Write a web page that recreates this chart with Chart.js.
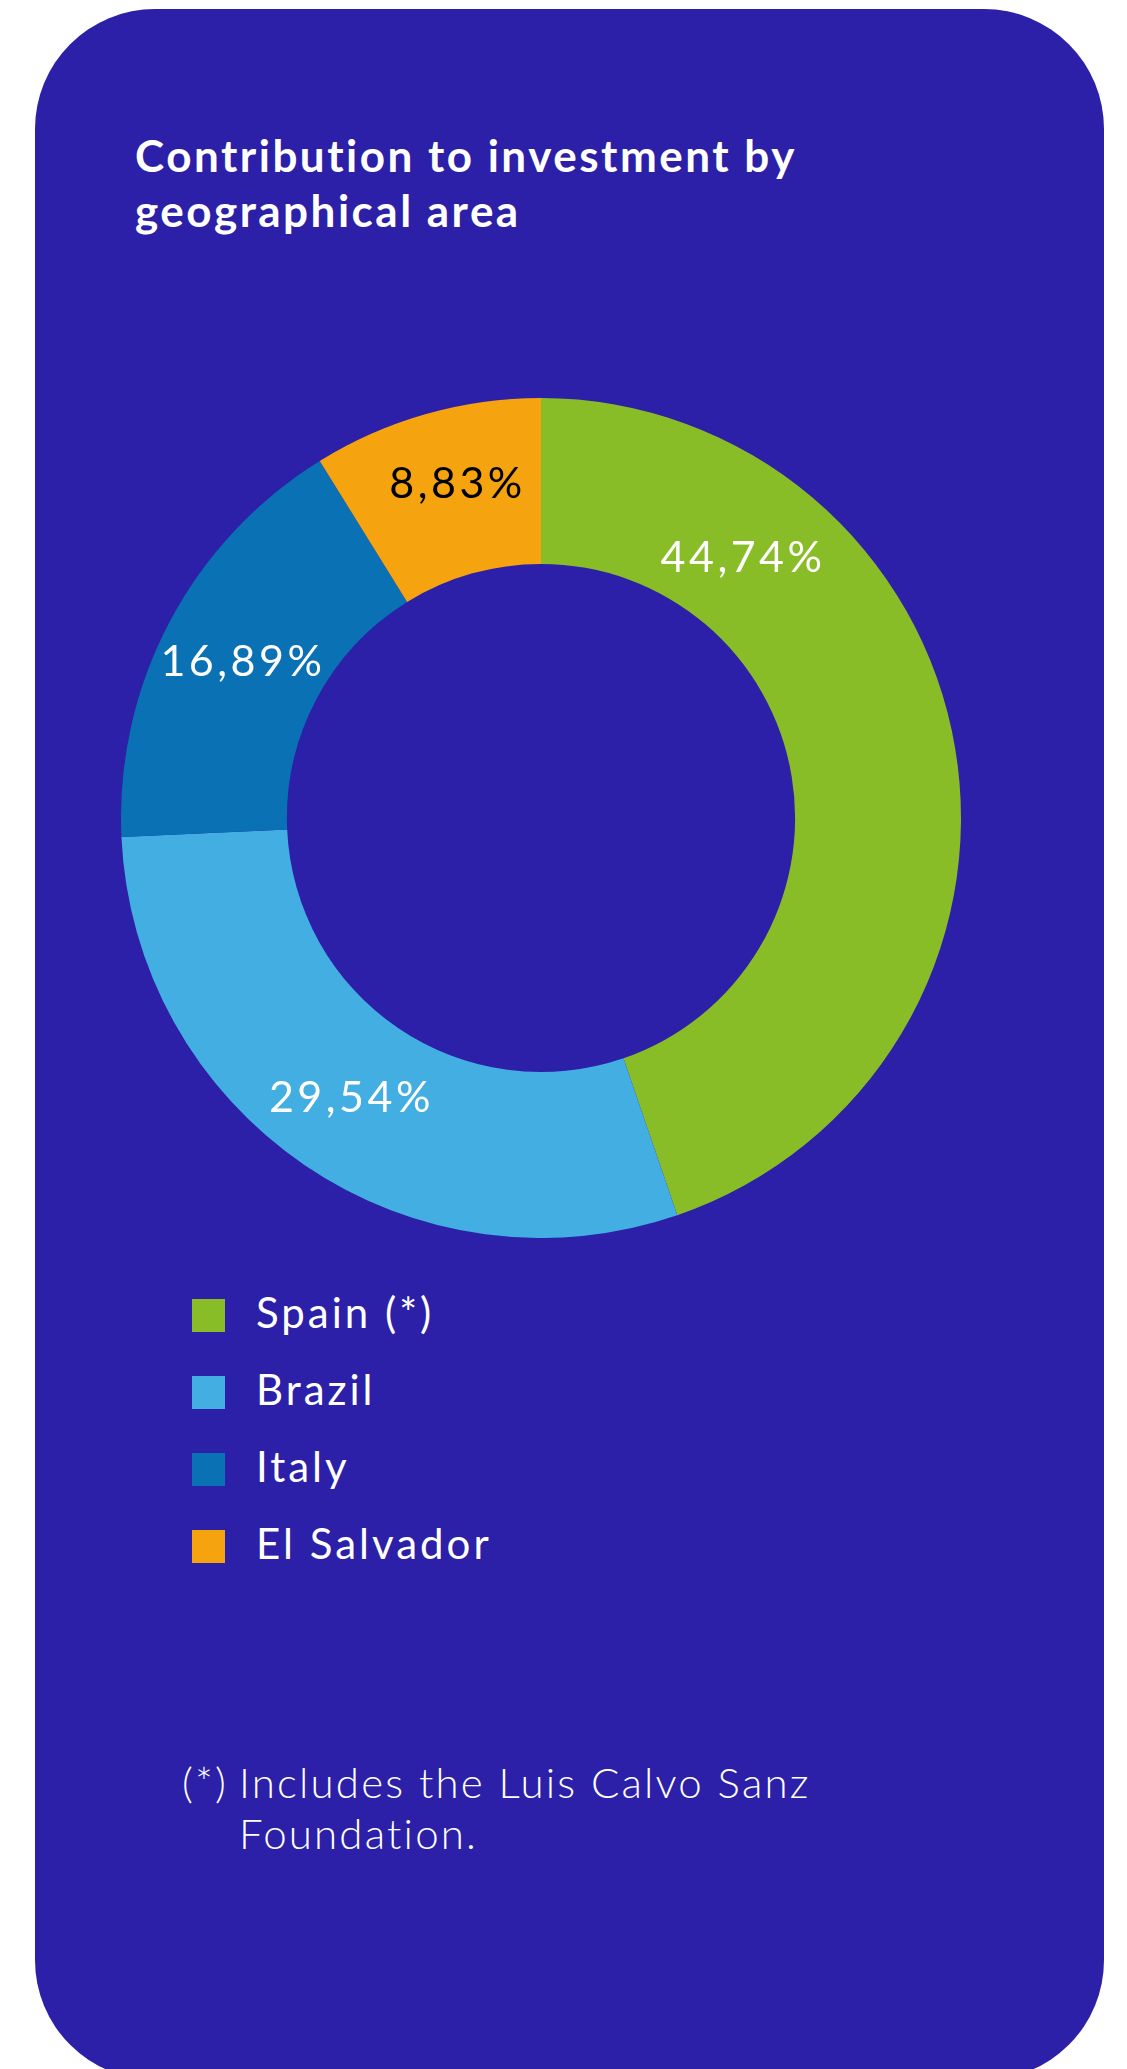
<!DOCTYPE html>
<html>
<head>
<meta charset="utf-8">
<title>Contribution to investment by geographical area</title>
<script src="https://cdn.jsdelivr.net/npm/chart.js@4.4.0/dist/chart.umd.min.js"></script>
<style>
    html, body {
        margin: 0;
        padding: 0;
        width: 1127px;
        height: 2069px;
        overflow: hidden;
        background: #ffffff;
        font-family: 'Lato', 'Noto Sans', sans-serif;
    }
    .card {
        position: absolute;
        left: 35px;
        top: 9px;
        width: 1069px;
        height: 2071px;
        border-radius: 120px;
        background: #2c1fa8;
    }
    .title {
        position: absolute;
        left: 135px;
        top: 128px;
        margin: 0;
        color: #ffffff;
        font-size: 44px;
        font-weight: 700;
        line-height: 55px;
        letter-spacing: 2.5px;
    }
    .chart-box {
        position: absolute;
        left: 121px;
        top: 398px;
        width: 840px;
        height: 840px;
    }
    .legend {
        position: absolute;
        left: 192px;
        top: 1299px;
    }
    .legend-row {
        display: flex;
        align-items: center;
        height: 33px;
        margin-bottom: 44px;
    }
    .legend-box {
        width: 33px;
        height: 33px;
        flex: none;
    }
    .legend-text {
        position: relative;
        top: -4px;
        margin-left: 31px;
        color: #ffffff;
        font-size: 42px;
        line-height: 42px;
        letter-spacing: 3px;
        white-space: nowrap;
    }
    .note {
        position: absolute;
        top: 1757px;
        color: #ffffff;
        font-size: 42px;
        font-weight: 300;
        line-height: 51px;
        letter-spacing: 2.2px;
        white-space: nowrap;
    }
</style>
</head>
<body>
<div class="card">
</div>
<h1 class="title">Contribution to investment by<br>geographical area</h1>
<div class="chart-box"><canvas id="areaChart"></canvas></div>
<div class="legend" id="legend"></div>
<div class="note" style="left:182px;">(*)</div>
<div class="note" style="left:239px;">Includes the Luis Calvo Sanz<br>Foundation.</div>

<script>
// Share of investment by area, in %
const areas = ['Spain (*)', 'Brazil', 'Italy', 'El Salvador'];
const shares = [44.74, 29.54, 16.89, 8.83];

const sliceColors = ['#89bd27', '#43aee2', '#0a71b4', '#f5a30f'];
const labelColors = ['#ffffff', '#ffffff', '#ffffff', '#000000'];

function formatShare(v) {
    return v.toFixed(2).replace('.', ',') + '%';
}

// Writes each share inside its slice, across the ring
const sliceLabels = {
    id: 'sliceLabels',
    afterDatasetsDraw(chart, args, opts) {
        const ctx = chart.ctx;
        const meta = chart.getDatasetMeta(0);
        const size = opts.size;
        ctx.save();
        ctx.font = `${opts.weight} ${size}px ${opts.family}`;
        ctx.textAlign = 'center';
        ctx.textBaseline = 'alphabetic';
        if ('letterSpacing' in ctx) ctx.letterSpacing = opts.spacing;
        meta.data.forEach((arc, i) => {
            const p = arc.getProps(['x', 'y', 'startAngle', 'endAngle', 'innerRadius', 'outerRadius'], true);
            const t = opts.along[i] !== undefined ? opts.along[i] : 0.5;
            const d = opts.depth[i] !== undefined ? opts.depth[i] : 0.5;
            const a = p.startAngle + (p.endAngle - p.startAngle) * t;
            const r = p.innerRadius + (p.outerRadius - p.innerRadius) * d;
            ctx.fillStyle = labelColors[i];
            ctx.fillText(formatShare(shares[i]),
                p.x + Math.cos(a) * r,
                p.y + Math.sin(a) * r + size * 0.36);
        });
        ctx.restore();
    }
};

function buildLegend() {
    const legend = document.getElementById('legend');
    legend.innerHTML = areas.map((name, i) => `
        <div class="legend-row">
            <span class="legend-box" style="background:${sliceColors[i]}"></span>
            <span class="legend-text">${name}</span>
        </div>`).join('');
}

document.addEventListener('DOMContentLoaded', () => {
    buildLegend();

    const ctx = document.getElementById('areaChart').getContext('2d');
    new Chart(ctx, {
        type: 'doughnut',
        data: {
            labels: areas,
            datasets: [{
                data: shares,
                backgroundColor: sliceColors,
                borderWidth: 0,
                hoverOffset: 0,
                offset: 0
            }]
        },
        options: {
            responsive: true,
            maintainAspectRatio: false,
            animation: false,
            cutout: '60.5%',
            layout: { padding: 0 },
            events: [],
            plugins: {
                legend: { display: false },
                tooltip: { enabled: false },
                sliceLabels: {
                    size: 43,
                    weight: 400,
                    family: "'Lato', 'Noto Sans', sans-serif",
                    spacing: '3.5px',
                    // Spain's label sits in the upper part of its slice
                    along: [0.234, 0.5, 0.5, 0.56],
                    depth: [0.46, 0.5, 0.5, 0.55]
                }
            }
        },
        plugins: [sliceLabels]
    });
});
</script>
</body>
</html>
